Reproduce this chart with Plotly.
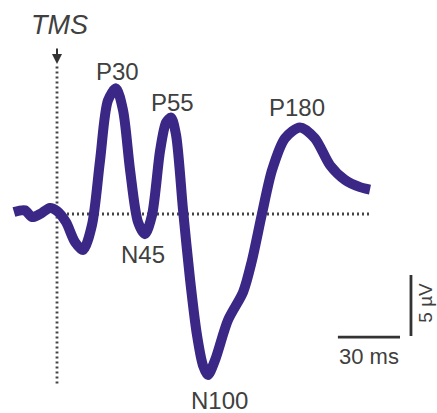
import plotly.graph_objects as go

# Waveform (time in ms relative to TMS, amplitude in µV)
time_ms = [-20.8, -15.5, -12.0, -8.2, -3.4, 0.0, 4.3, 8.7, 12.6, 16.9, 20.8, 24.6, 28.5,
           31.9, 35.3, 39.1, 42.5, 45.9, 49.8, 52.7, 55.1, 57.5, 60.9, 64.3, 67.6, 70.5,
           72.9, 76.3, 82.6, 89.9, 94.2, 99.0, 103.9, 110.1, 117.4, 124.6, 131.9, 139.1,
           146.4, 151.2]
amp_uv = [0.16, 0.3, -0.25, 0.0, 0.5, 0.25, -0.65, -2.3, -2.95, -0.9, 4.4, 9.3, 10.3,
          8.5, 3.6, -0.65, -1.65, -0.1, 5.2, 7.5, 7.9, 6.5, 0.3, -5.4, -9.9, -12.4,
          -13.2, -12.0, -8.7, -6.4, -3.8, 0.0, 3.6, 6.2, 7.1, 6.2, 4.0, 2.8, 2.2, 2.0]

# Peak labels
peak_names = ["P30", "P55", "P180", "N45", "N100"]
peak_t = [29.0, 55.6, 115.9, 41.5, 78.3]
peak_v = [11.64, 9.18, 8.77, -3.36, -15.25]

# Scale bar sizes
scale_ms = 30
scale_uv = 5

PX_MS = 2.07
PX_UV = 12.2
W, H = 437, 413
X0, Y0 = 57, 214
x_range = [-X0 / PX_MS, (W - X0) / PX_MS]
y_range = [(Y0 - H) / PX_UV, Y0 / PX_UV]

line_col = "#3b2785"
text_col = "#404040"
FONT = "Liberation Sans, Arial"

fig = go.Figure()

# dotted baseline and TMS line
fig.add_trace(go.Scatter(x=[0, 151.2], y=[0, 0], mode="lines",
                         line=dict(color="#444444", width=2.8, dash="2px,3px"),
                         hoverinfo="skip", showlegend=False))
fig.add_trace(go.Scatter(x=[0, 0], y=[12.1, -14.0], mode="lines",
                         line=dict(color="#444444", width=2.8, dash="2px,3px"),
                         hoverinfo="skip", showlegend=False))

fig.add_trace(go.Scatter(x=time_ms, y=amp_uv, mode="lines",
                         line=dict(color=line_col, width=10, shape="spline", smoothing=0.8),
                         showlegend=False))

# scale bars
sb_t0 = 135.7
sb_v = -10.1
fig.add_trace(go.Scatter(x=[sb_t0, sb_t0 + scale_ms], y=[sb_v, sb_v], mode="lines",
                         line=dict(color="#333333", width=2.8), showlegend=False))
vb_t = 171.0
fig.add_trace(go.Scatter(x=[vb_t, vb_t], y=[sb_v + 0.1, sb_v + 0.1 + scale_uv], mode="lines",
                         line=dict(color="#333333", width=2.8), showlegend=False))

anns = []
for n, t, v in zip(peak_names, peak_t, peak_v):
    anns.append(dict(x=t, y=v, text=n, showarrow=False,
                     font=dict(family=FONT, size=24, color=text_col)))
anns.append(dict(x=1.0, y=15.5, text="<i>TMS</i>", showarrow=False,
                 font=dict(family=FONT, size=27, color=text_col)))
anns.append(dict(x=0, y=12.3, ax=0, ay=-17, text="", showarrow=True, arrowhead=2,
                 arrowsize=1, arrowwidth=2, arrowcolor="#333333"))
anns.append(dict(x=150.7, y=-11.64, text="30 ms", showarrow=False,
                 font=dict(family=FONT, size=22, color=text_col)))
anns.append(dict(x=177.6, y=-7.3, text="5 µV", showarrow=False, textangle=-90,
                 font=dict(family=FONT, size=19, color=text_col)))

fig.update_layout(
    width=W, height=H,
    margin=dict(l=0, r=0, t=0, b=0),
    paper_bgcolor="white", plot_bgcolor="white",
    xaxis=dict(range=x_range, visible=False, fixedrange=True),
    yaxis=dict(range=y_range, visible=False, fixedrange=True),
    annotations=anns,
    showlegend=False,
)

fig.write_html("out.html")
